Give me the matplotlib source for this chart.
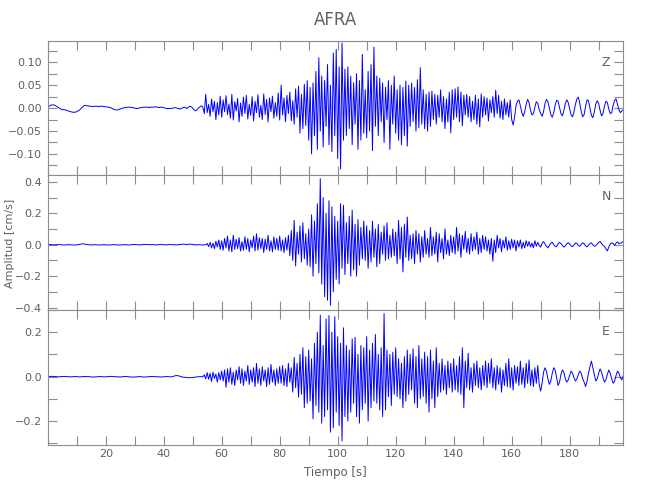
import numpy as np
import matplotlib
matplotlib.use('Agg')
import matplotlib.pyplot as plt

plt.rcParams['font.family'] = ['Liberation Sans Narrow', 'DejaVu Sans']

# sampling step of the traces (s); amplitudes below are in 0.001 cm/s
dt = 0.5
station = 'AFRA'
components = ['Z', 'N', 'E']

z_vals = [
    2, 4, 6, 7, 7, 6, 4, 2, 0, -2, -4, -3, -4, -5, -6, -7, -8, -9, -9, -9,
    -8, -6, -4, -1, 2, 5, 6, 5, 5, 4, 4, 3, 4, 4, 4, 3, 4, 4, 4, 3,
    3, 2, 2, 1, 0, -2, -3, -4, -4, -3, -2, -1, 0, 1, 1, 2, 2, 2, 1, 1,
    0, -1, -1, 0, 1, 1, 2, 2, 2, 2, 1, 2, 2, 2, 3, 2, 2, 1, 2, 2,
    1, 0, -1, -1, -1, -1, 0, 0, 1, 0, -1, -2, -1, 0, 2, 1, -1, 2, 4, 3,
    0, -4, -6, -4, 0, 3, 5, 2, -12, 30, -10, 8, -18, 20, -8, 15, -25, 12, -15, 26,
    -20, 18, -8, 27, -14, 9, -22, 30, -26, 14, -6, 21, -30, 11, -18, 24, -12, 28, -24, 8,
    -16, 25, -28, 15, -10, 29, -20, 6, -25, 31, -14, 19, -30, 22, -8, 26, -22, 12, -18, 33,
    -26, 50, -15, 22, -30, 28, -12, 35, -28, 16, -35, 42, -20, 48, -55, 30, -45, 52, -38, 60,
    -70, 45, -100, 55, -60, 80, -90, 110, -50, 70, -85, 60, -40, 95, -80, 50, -95, 120, -60, 128,
    -110, 90, -133, 142, -70, 85, -60, 90, -45, 70, -80, 55, -35, 75, -90, 60, -70, 117, -55, 40,
    -65, 80, -50, 95, -93, 133, -40, 70, -60, 65, -30, 55, -75, 45, -25, 60, -90, 50, -35, 70,
    -55, 40, -70, 50, -80, 45, -60, 59, -83, 50, -40, 55, -30, 45, -50, 62, -43, 88, -35, 40,
    -45, 30, -50, 35, -40, 37, -25, 30, -35, 28, -20, 40, -30, 25, -45, 20, -30, 35, -54, 40,
    -25, 42, -20, 46, -30, 35, -39, 28, -15, 30, -20, 25, -30, 15, -25, 28, -35, 20, -41, 31,
    -20, 25, -15, 22, -28, 18, -10, 25, -20, 39, -12, 28, -22, 15, -25, 20, -15, 12, -20, 18,
    -25, -37, -20, 5, 15, 18, 5, -10, -18, -8, 8, 19, 12, -5, -15, -12, 2, 14, 10, -3,
    -12, -18, -8, 10, 19, 14, 0, -14, -20, -10, 6, 17, 15, 2, -12, -17, -6, 10, 18, 12,
    -2, -15, -19, -8, 8, 20, 24, 10, -8, -19, -14, 4, 18, 16, 0, -16, -21, -9, 9, 16,
    10, -5, -17, -12, 4, 15, 12, -2, -12, -10, 6, 17, 20, 8, -4, -10, -6, -4,
]

n_vals = [
    0, 1, 1, 0, -1, -1, 0, 0, 1, 0, -1, -2, -2, -1, 0, 0, -1, -1, -2, -2,
    -1, 0, 2, 4, 6, 5, 3, 1, 0, -1, -2, -1, 0, 0, -1, -2, -2, -1, 0, 0,
    -1, -1, -2, -2, -1, 0, 0, -1, -1, -2, -2, -1, -1, 0, 0, -1, -2, -1, 0, 1,
    1, 0, 0, -1, -1, 0, 1, 2, 2, 1, 0, 0, 1, 0, -1, -1, 0, 1, 1, 0,
    0, -1, -1, 0, 1, 1, 0, 0, -1, -1, 0, 1, 2, 3, 3, 2, 1, 2, 4, 3,
    1, 0, -1, -1, 0, 0, -1, -2, 0, -1, 8, -12, 15, -20, 10, -25, 22, -15, 30, -30,
    25, -35, 40, -20, 55, -40, 30, -45, 60, -30, 35, -25, 45, -40, 20, -35, 50, -30, 40, -45,
    30, -20, 55, -40, 70, -35, 45, -25, 40, -50, 35, -30, 60, -40, 25, -45, 50, -30, 40, -35,
    55, -40, 30, -50, 45, -35, 60, -70, 90, -100, 155, -135, 80, -60, 120, -110, 140, -90, 70, -130,
    100, -140, 190, -200, 150, -120, 260, -180, 420, -250, 300, -330, 200, -353, 280, -385, 240, -300, 180, -220,
    150, -250, 260, -150, 250, -190, 140, -120, 180, -200, 220, -160, 130, -200, 160, -130, 110, -90, 150, -100,
    120, -150, 90, -110, 150, -80, 100, -140, 130, -120, 80, -60, 120, -100, 140, -90, 60, -80, 100, -70,
    80, -120, 155, -90, 110, -173, 130, -80, 176, -100, 60, -90, 70, -120, 90, -60, 70, -110, 50, -80,
    90, -60, 40, -80, 110, -70, 50, -60, 80, -110, 70, -50, 40, -90, 100, -60, 30, -70, 60, -50,
    50, -60, 110, -40, 70, -80, 60, -30, 85, -50, 40, -60, 70, -40, 50, -30, 80, -60, 40, -50,
    60, -30, 50, -40, 30, -60, 40, -105, 30, -50, 60, -20, 40, -45, 30, -20, 50, -35, 25, -30,
    35, -20, 30, -40, 25, -15, 30, -25, 15, -20, 25, -10, 20, -15, 10, -20, 25, -10, 15, -5,
    -15, 10, 20, 5, -10, -20, -5, 10, 15, 0, -10, -12, 5, 15, 8, -5, -15, -8, 6, 12,
    5, -8, -12, -2, 10, 8, -5, -10, 2, 12, 6, -8, -14, -4, 8, 12, 0, -10, -6, 5,
    15, 20, 8, -5, -10, -25, -40, -15, 5, 12, 8, -5, 10, 18, 6, 10, 14, 20,
]

e_vals = [
    0, 0, 1, 1, 1, 0, 0, -1, -1, 0, 0, 1, 1, 0, 0, -1, -1, -1, 0, 0,
    0, -1, -1, -1, 0, 0, 1, 0, 0, -1, -1, -2, -2, -1, -1, 0, 0, 0, -1, -1,
    -1, 0, 0, 1, 1, 0, 0, -1, -1, -1, -2, -1, 0, 0, 1, 0, -1, -1, -2, -2,
    -2, -1, -1, 0, 0, -1, -2, -2, -1, -1, 0, 0, 1, 0, 0, -1, -1, -1, -2, -1,
    -1, 0, 0, 0, -1, -1, 0, 2, 4, 5, 4, 2, 0, -2, -3, -3, -4, -5, -5, -4,
    -4, -3, -2, -1, -1, 0, 0, -1, 8, -10, 18, -12, 15, -22, 20, -8, 12, -25, 18, -15,
    25, -20, 30, -48, 35, -25, 40, -35, 20, -40, 30, -15, 45, -30, 35, -40, 25, -20, 50, -35,
    30, -25, 40, -45, 60, -30, 35, -40, 45, -20, 30, -45, 40, -35, 55, -25, 30, -40, 35, -30,
    45, -30, 50, -40, 35, -45, 60, -25, 40, -70, 87, -50, 60, -93, 100, -80, 130, -140, 90, -120,
    120, -110, 80, -190, 150, -130, 200, -160, 277, -210, 140, -180, 260, -150, 275, -250, 200, -230, 270, -160,
    180, -220, 150, -290, 220, -180, 140, -200, 120, -160, 170, -120, 177, -180, 100, -210, 140, -150, 130, -120,
    180, -200, 120, -140, 150, -110, 190, -120, 100, -150, 130, -180, 284, -150, 120, -90, 100, -130, 110, -80,
    130, -90, 80, -100, 60, -140, 90, -110, 120, -80, 100, -60, 125, -120, 90, -140, 140, -100, 80, -90,
    110, -120, 90, -160, 120, -100, 70, -140, 130, -90, 60, -70, 80, -60, 50, -80, 70, -50, 60, -70,
    80, -60, 50, -70, 90, -80, 130, -140, 70, -50, 105, -60, 40, -70, 60, -40, 70, -50, 40, -60,
    50, -40, 70, -50, 60, -30, 80, -50, 40, -60, 50, -35, 40, -70, 30, -40, 60, -45, 80, -50,
    40, -60, 50, -30, 45, -40, 70, -35, 40, -50, 60, -30, 75, -40, 30, -45, 40, -30, 50, -35,
    -65, -30, 20, 40, 25, -10, -35, -20, 15, 40, 30, -5, -40, -25, 10, 30, 20, -10, -25, -15,
    5, 25, 15, -5, -20, -10, 10, 25, 15, -10, -25, -45, -20, 15, 45, 70, 40, 10, -20, -10,
    15, 35, 20, -5, -25, -15, 10, 30, 15, -10, -30, -20, 5, 25, 15, -5, -15, 5,
]

traces = [z_vals, n_vals, e_vals]

# axis setup per panel: limits, tick positions, labelled ticks
y_limits = [(-0.146, 0.147), (-0.415, 0.443), (-0.308, 0.300)]
y_ticks = [[-0.125, -0.1, -0.075, -0.05, -0.025, 0.0, 0.025, 0.05, 0.075, 0.1, 0.125],
           [-0.4, -0.3, -0.2, -0.1, 0.0, 0.1, 0.2, 0.3, 0.4],
           [-0.3, -0.2, -0.1, 0.0, 0.1, 0.2, 0.3]]
y_labels = [{-0.1: '\u22120.10', -0.05: '\u22120.05', 0.0: '0.00', 0.05: '0.05', 0.1: '0.10'},
            {-0.4: '\u22120.4', -0.2: '\u22120.2', 0.0: '0.0', 0.2: '0.2', 0.4: '0.4'},
            {-0.2: '\u22120.2', 0.0: '0.0', 0.2: '0.2'}]
x_ticks = list(range(0, 200, 10))
x_tick_labels = ['' if v % 20 or v == 0 else str(v) for v in x_ticks]

gray = '#8c8c8c'
text_gray = '#606060'

fig = plt.figure(figsize=(6.5, 5), dpi=100)
left, width = 47.7 / 650, (623.3 - 47.7) / 650
tops = [40.7, 175, 310]
bottoms = [175, 310, 445]

for i, vals in enumerate(traces):
    b = 1 - bottoms[i] / 500
    h = (bottoms[i] - tops[i]) / 500
    ax = fig.add_axes([left, b, width, h])
    t = np.arange(len(vals)) * dt
    ax.plot(t, np.array(vals) / 1000.0, color='#0000ff', lw=0.7)
    ax.set_xlim(0, 198.5)
    ax.set_ylim(*y_limits[i])
    ax.set_yticks(y_ticks[i])
    ax.set_yticklabels([y_labels[i].get(round(v, 3), '') for v in y_ticks[i]])
    ax.set_xticks(x_ticks)
    if i == 2:
        ax.set_xticklabels(x_tick_labels)
    else:
        ax.set_xticklabels([])
    ax.tick_params(direction='in', length=6.5, width=0.8, color=gray,
                   top=True, right=True, labelsize=8, labelcolor=text_gray)
    ax.tick_params(axis='y', pad=4)
    ax.tick_params(axis='x', pad=3)
    for s in ax.spines.values():
        s.set_color(gray)
        s.set_linewidth(0.8)
    ax.text(0.97, 0.84, components[i], transform=ax.transAxes, ha='center',
            va='center', fontsize=9, color=text_gray)
    if i == 2:
        ax.set_xlabel('Tiempo [s]', fontsize=8.5, color=text_gray, labelpad=5)

fig.text(335.5 / 650, 1 - 20 / 500, station, ha='center', va='center',
         fontsize=12, color=text_gray)
fig.text(10 / 650, 1 - 243 / 500, 'Amplitud [cm/s]', rotation=90,
         ha='center', va='center', fontsize=8, color=text_gray)

fig.savefig('out.png', dpi=100)
